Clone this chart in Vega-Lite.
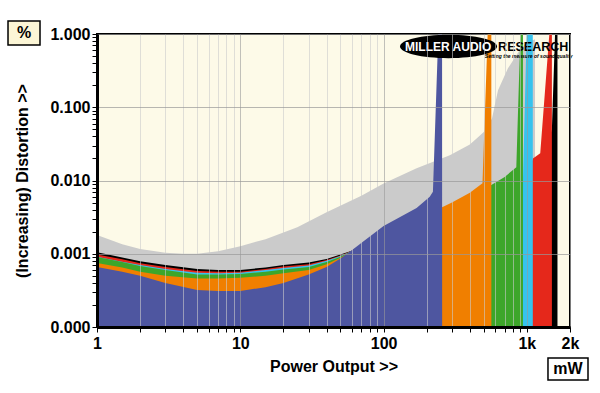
{
  "$schema": "https://vega.github.io/schema/vega-lite/v6.json",
  "width": 473,
  "height": 293,
  "autosize": {"type": "none"},
  "padding": {"left": 97, "top": 34, "right": 30, "bottom": 66},
  "background": "#ffffff",
  "config": {
    "view": {"fill": "#FDFAE8", "stroke": "#000000", "strokeWidth": 2},
    "font": "Liberation Sans"
  },
  "layer": [
    {
      "data": {"values": [
      {"s": "grey", "mW": 1, "pct": 0.0018}, {"s": "grey", "mW": 1.5, "pct": 0.00135}, {"s": "grey", "mW": 2, "pct": 0.00116}, {"s": "grey", "mW": 3, "pct": 0.00103}, {"s": "grey", "mW": 4, "pct": 0.001}, {"s": "grey", "mW": 5, "pct": 0.001}, {"s": "grey", "mW": 7, "pct": 0.00108}, {"s": "grey", "mW": 10, "pct": 0.00127}, {"s": "grey", "mW": 15, "pct": 0.00158}, {"s": "grey", "mW": 25, "pct": 0.0023}, {"s": "grey", "mW": 40, "pct": 0.0037}, {"s": "grey", "mW": 70, "pct": 0.0062}, {"s": "grey", "mW": 100, "pct": 0.0091}, {"s": "grey", "mW": 170, "pct": 0.0147}, {"s": "grey", "mW": 290, "pct": 0.0222}, {"s": "grey", "mW": 400, "pct": 0.031}, {"s": "grey", "mW": 456, "pct": 0.039}, {"s": "grey", "mW": 500, "pct": 0.046}, {"s": "grey", "mW": 571, "pct": 0.07}, {"s": "grey", "mW": 629, "pct": 0.17}, {"s": "grey", "mW": 738, "pct": 0.34}, {"s": "grey", "mW": 844, "pct": 0.51}, {"s": "grey", "mW": 914, "pct": 0.66}, {"s": "grey", "mW": 1000, "pct": 0.76}, {"s": "grey", "mW": 1140, "pct": 0.85}, {"s": "grey", "mW": 1141, "pct": 0.000001},

      {"s": "black", "mW": 1, "pct": 0.00105}, {"s": "black", "mW": 1.5, "pct": 0.00089}, {"s": "black", "mW": 2, "pct": 0.00079}, {"s": "black", "mW": 3, "pct": 0.0007}, {"s": "black", "mW": 5, "pct": 0.00062}, {"s": "black", "mW": 7, "pct": 0.0006}, {"s": "black", "mW": 10, "pct": 0.0006}, {"s": "black", "mW": 15, "pct": 0.00065}, {"s": "black", "mW": 20, "pct": 0.0007}, {"s": "black", "mW": 30, "pct": 0.00076}, {"s": "black", "mW": 40, "pct": 0.00085}, {"s": "black", "mW": 50, "pct": 0.00098}, {"s": "black", "mW": 60, "pct": 0.0011}, {"s": "black", "mW": 100, "pct": 0.002}, {"s": "black", "mW": 300, "pct": 0.0045}, {"s": "black", "mW": 565, "pct": 0.0075}, {"s": "black", "mW": 939, "pct": 0.009}, {"s": "black", "mW": 1103, "pct": 0.012}, {"s": "black", "mW": 1300, "pct": 0.018}, {"s": "black", "mW": 1495, "pct": 0.05}, {"s": "black", "mW": 1580, "pct": 1.3}, {"s": "black", "mW": 1635, "pct": 1.3}, {"s": "black", "mW": 1635.5, "pct": 0.000001},

      {"s": "red", "mW": 1, "pct": 0.00098}, {"s": "red", "mW": 1.5, "pct": 0.00084}, {"s": "red", "mW": 2, "pct": 0.00074}, {"s": "red", "mW": 3, "pct": 0.00066}, {"s": "red", "mW": 5, "pct": 0.00058}, {"s": "red", "mW": 7, "pct": 0.00057}, {"s": "red", "mW": 10, "pct": 0.00057}, {"s": "red", "mW": 15, "pct": 0.00062}, {"s": "red", "mW": 20, "pct": 0.00067}, {"s": "red", "mW": 30, "pct": 0.00072}, {"s": "red", "mW": 40, "pct": 0.00082}, {"s": "red", "mW": 50, "pct": 0.00095}, {"s": "red", "mW": 60, "pct": 0.0011}, {"s": "red", "mW": 100, "pct": 0.002}, {"s": "red", "mW": 300, "pct": 0.0045}, {"s": "red", "mW": 565, "pct": 0.0075}, {"s": "red", "mW": 939, "pct": 0.009}, {"s": "red", "mW": 1000, "pct": 0.012}, {"s": "red", "mW": 1103, "pct": 0.02}, {"s": "red", "mW": 1240, "pct": 0.0236}, {"s": "red", "mW": 1450, "pct": 1.3}, {"s": "red", "mW": 1495, "pct": 1.3}, {"s": "red", "mW": 1495.5, "pct": 0.000001},

      {"s": "cyan", "mW": 1, "pct": 0.00091}, {"s": "cyan", "mW": 1.5, "pct": 0.00078}, {"s": "cyan", "mW": 2, "pct": 0.0007}, {"s": "cyan", "mW": 3, "pct": 0.00062}, {"s": "cyan", "mW": 5, "pct": 0.00055}, {"s": "cyan", "mW": 7, "pct": 0.00054}, {"s": "cyan", "mW": 10, "pct": 0.00055}, {"s": "cyan", "mW": 15, "pct": 0.0006}, {"s": "cyan", "mW": 20, "pct": 0.00064}, {"s": "cyan", "mW": 30, "pct": 0.00069}, {"s": "cyan", "mW": 40, "pct": 0.0008}, {"s": "cyan", "mW": 50, "pct": 0.00093}, {"s": "cyan", "mW": 60, "pct": 0.00109}, {"s": "cyan", "mW": 100, "pct": 0.002}, {"s": "cyan", "mW": 300, "pct": 0.0045}, {"s": "cyan", "mW": 565, "pct": 0.0075}, {"s": "cyan", "mW": 939, "pct": 0.01}, {"s": "cyan", "mW": 1000, "pct": 1.3}, {"s": "cyan", "mW": 1100, "pct": 1.3}, {"s": "cyan", "mW": 1100.5, "pct": 0.000001},

      {"s": "green", "mW": 1, "pct": 0.0009}, {"s": "green", "mW": 1.5, "pct": 0.00077}, {"s": "green", "mW": 2, "pct": 0.00068}, {"s": "green", "mW": 3, "pct": 0.0006}, {"s": "green", "mW": 5, "pct": 0.00052}, {"s": "green", "mW": 7, "pct": 0.00052}, {"s": "green", "mW": 10, "pct": 0.00053}, {"s": "green", "mW": 15, "pct": 0.00057}, {"s": "green", "mW": 20, "pct": 0.00061}, {"s": "green", "mW": 30, "pct": 0.00066}, {"s": "green", "mW": 40, "pct": 0.00077}, {"s": "green", "mW": 50, "pct": 0.00091}, {"s": "green", "mW": 60, "pct": 0.00109}, {"s": "green", "mW": 100, "pct": 0.002}, {"s": "green", "mW": 300, "pct": 0.0045}, {"s": "green", "mW": 500, "pct": 0.0075}, {"s": "green", "mW": 565, "pct": 0.0087}, {"s": "green", "mW": 700, "pct": 0.0112}, {"s": "green", "mW": 844, "pct": 0.0152}, {"s": "green", "mW": 905, "pct": 1.3}, {"s": "green", "mW": 939, "pct": 1.3}, {"s": "green", "mW": 939.5, "pct": 0.000001},

      {"s": "orange", "mW": 1, "pct": 0.00075}, {"s": "orange", "mW": 1.5, "pct": 0.00065}, {"s": "orange", "mW": 2, "pct": 0.00057}, {"s": "orange", "mW": 3, "pct": 0.0005}, {"s": "orange", "mW": 5, "pct": 0.00046}, {"s": "orange", "mW": 7, "pct": 0.00046}, {"s": "orange", "mW": 10, "pct": 0.00047}, {"s": "orange", "mW": 15, "pct": 0.0005}, {"s": "orange", "mW": 20, "pct": 0.00054}, {"s": "orange", "mW": 30, "pct": 0.0006}, {"s": "orange", "mW": 40, "pct": 0.00072}, {"s": "orange", "mW": 50, "pct": 0.00088}, {"s": "orange", "mW": 60, "pct": 0.00108}, {"s": "orange", "mW": 100, "pct": 0.0021}, {"s": "orange", "mW": 200, "pct": 0.0036}, {"s": "orange", "mW": 256, "pct": 0.0043}, {"s": "orange", "mW": 300, "pct": 0.005}, {"s": "orange", "mW": 400, "pct": 0.0068}, {"s": "orange", "mW": 490, "pct": 0.0092}, {"s": "orange", "mW": 535, "pct": 1.3}, {"s": "orange", "mW": 565, "pct": 1.3}, {"s": "orange", "mW": 565.5, "pct": 0.000001},

      {"s": "blue", "mW": 1, "pct": 0.00066}, {"s": "blue", "mW": 1.5, "pct": 0.00057}, {"s": "blue", "mW": 2, "pct": 0.0005}, {"s": "blue", "mW": 3, "pct": 0.0004}, {"s": "blue", "mW": 5, "pct": 0.00032}, {"s": "blue", "mW": 7, "pct": 0.00031}, {"s": "blue", "mW": 10, "pct": 0.00031}, {"s": "blue", "mW": 15, "pct": 0.00035}, {"s": "blue", "mW": 20, "pct": 0.0004}, {"s": "blue", "mW": 30, "pct": 0.00052}, {"s": "blue", "mW": 40, "pct": 0.00066}, {"s": "blue", "mW": 50, "pct": 0.00086}, {"s": "blue", "mW": 60, "pct": 0.00112}, {"s": "blue", "mW": 100, "pct": 0.0024}, {"s": "blue", "mW": 150, "pct": 0.0037}, {"s": "blue", "mW": 170, "pct": 0.0042}, {"s": "blue", "mW": 210, "pct": 0.006}, {"s": "blue", "mW": 221, "pct": 0.007}, {"s": "blue", "mW": 242, "pct": 1.3}, {"s": "blue", "mW": 256, "pct": 1.3}, {"s": "blue", "mW": 256.5, "pct": 0.000001}
      ]},
      "encoding": {
        "x": {
          "field": "mW", "type": "quantitative",
          "scale": {"type": "log", "domain": [1, 2000], "nice": false},
          "axis": {
            "values": [1,2,3,4,5,6,7,8,9,10,20,30,40,50,60,70,80,90,100,200,300,400,500,600,700,800,900,1000,2000],
            "labelExpr": "datum.value == 1 ? '1' : datum.value == 10 ? '10' : datum.value == 100 ? '100' : datum.value == 1000 ? '1k' : datum.value == 2000 ? '2k' : ''",
            "labelFlush": false, "labelOverlap": false,
            "labelFont": "Liberation Sans", "labelFontSize": 16, "labelFontWeight": "bold", "labelColor": "#000000", "labelPadding": 3,
            "title": "Power Output >>", "titleFont": "Liberation Sans", "titleFontSize": 16, "titleFontWeight": "bold", "titleColor": "#000000", "titlePadding": 7,
            "tickSize": 5, "tickColor": "#000000", "tickWidth": 1,
            "domainColor": "#000000", "domainWidth": 3,
            "grid": true,
            "gridColor": {"condition": {"test": "abs(log(datum.value)/LN10 - round(log(datum.value)/LN10)) < 0.001", "value": "#9a9a9a"}, "value": "#cccccc"},
            "gridOpacity": 0.6,
            "zindex": 1
          }
        },
        "y": {
          "field": "pct", "type": "quantitative",
          "scale": {"type": "log", "domain": [0.0001, 1], "nice": false},
          "axis": {
            "values": [0.0001,0.0002,0.0003,0.0004,0.0005,0.0006,0.0007,0.0008,0.0009,0.001,0.002,0.003,0.004,0.005,0.006,0.007,0.008,0.009,0.01,0.02,0.03,0.04,0.05,0.06,0.07,0.08,0.09,0.1,0.2,0.3,0.4,0.5,0.6,0.7,0.8,0.9,1],
            "labelExpr": "abs(log(datum.value)/LN10 - round(log(datum.value)/LN10)) < 0.001 ? format(datum.value, '.3f') : ''",
            "labelOverlap": false, "labelFlush": false,
            "labelFont": "Liberation Sans", "labelFontSize": 16, "labelFontWeight": "bold", "labelColor": "#000000", "labelPadding": 2,
            "title": "(Increasing) Distortion >>", "titleFont": "Liberation Sans", "titleFontSize": 16, "titleFontWeight": "bold", "titleColor": "#000000", "titlePadding": 19,
            "tickSize": 5, "tickColor": "#000000", "tickWidth": 1,
            "domainColor": "#000000", "domainWidth": 3,
            "grid": true,
            "gridColor": "#999999",
            "gridOpacity": {"condition": {"test": "abs(log(datum.value)/LN10 - round(log(datum.value)/LN10)) < 0.001", "value": 0.7}, "value": 0},
            "zindex": 1
          }
        },
        "y2": {"datum": 0.0001}
      },
      "layer": [
        {"transform": [{"filter": "datum.s == 'grey'"}], "mark": {"type": "area", "clip": true, "color": "#CBCBCB"}},
        {"transform": [{"filter": "datum.s == 'black'"}], "mark": {"type": "area", "clip": true, "color": "#000000"}},
        {"transform": [{"filter": "datum.s == 'red'"}], "mark": {"type": "area", "clip": true, "color": "#E5281B"}},
        {"transform": [{"filter": "datum.s == 'cyan'"}], "mark": {"type": "area", "clip": true, "color": "#36C3EE"}},
        {"transform": [{"filter": "datum.s == 'green'"}], "mark": {"type": "area", "clip": true, "color": "#3DA62A"}},
        {"transform": [{"filter": "datum.s == 'orange'"}], "mark": {"type": "area", "clip": true, "color": "#F07F00"}},
        {"transform": [{"filter": "datum.s == 'blue'"}], "mark": {"type": "area", "clip": true, "color": "#4E56A0"}}
      ]
    },
    {
      "data": {"values": [{"t": "logo"}]},
      "mark": {"type": "point", "filled": true, "color": "#000000", "opacity": 1, "size": 9409, "shape": "M-1,0A1,0.24,0,1,1,1,0A1,0.24,0,1,1,-1,0Z"},
      "encoding": {"x": {"datum": 283.9, "type": "quantitative"}, "y": {"datum": 0.675, "type": "quantitative"}}
    },
    {
      "data": {"values": [{"t": "MILLER AUDIO"}]},
      "mark": {"type": "text", "font": "Liberation Sans", "fontSize": 12, "fontWeight": "bold", "color": "#ffffff", "align": "left", "baseline": "middle"},
      "encoding": {"x": {"datum": 141.1, "type": "quantitative"}, "y": {"datum": 0.675, "type": "quantitative"}, "text": {"field": "t"}}
    },
    {
      "data": {"values": [{"t": "RESEARCH"}]},
      "mark": {"type": "text", "font": "Liberation Sans", "fontSize": 12.5, "fontWeight": "bold", "color": "#000000", "align": "left", "baseline": "middle"},
      "encoding": {"x": {"datum": 630, "type": "quantitative"}, "y": {"datum": 0.675, "type": "quantitative"}, "text": {"field": "t"}}
    },
    {
      "data": {"values": [{"t": "Setting the measure of sound quality"}]},
      "mark": {"type": "text", "font": "Liberation Sans", "fontSize": 5, "fontWeight": "bold", "fontStyle": "italic", "color": "#000000", "align": "center", "baseline": "middle"},
      "encoding": {"x": {"datum": 1030, "type": "quantitative"}, "y": {"datum": 0.5, "type": "quantitative"}, "text": {"field": "t"}}
    },
    {
      "data": {"values": [{"t": "%"}]},
      "mark": {"type": "rect", "fill": "#FCF6D6", "stroke": "#000000", "strokeWidth": 1.5},
      "encoding": {"x": {"datum": 0.2393, "type": "quantitative"}, "x2": {"datum": 0.4002}, "y": {"datum": 1.504, "type": "quantitative"}, "y2": {"datum": 0.7079}}
    },
    {
      "data": {"values": [{"t": "%"}]},
      "mark": {"type": "text", "font": "Liberation Sans", "fontSize": 16, "fontWeight": "bold", "color": "#000000", "align": "center", "baseline": "middle"},
      "encoding": {"x": {"datum": 0.3094, "type": "quantitative"}, "y": {"datum": 1.032, "type": "quantitative"}, "text": {"field": "t"}}
    },
    {
      "data": {"values": [{"t": "mW"}]},
      "mark": {"type": "rect", "fill": "#ffffff", "stroke": "#000000", "strokeWidth": 1.5},
      "encoding": {"x": {"datum": 1404, "type": "quantitative"}, "x2": {"datum": 2671}, "y": {"datum": 0.00003775, "type": "quantitative"}, "y2": {"datum": 0.0000189}}
    },
    {
      "data": {"values": [{"t": "mW"}]},
      "mark": {"type": "text", "font": "Liberation Sans", "fontSize": 16, "fontWeight": "bold", "color": "#000000", "align": "center", "baseline": "middle"},
      "encoding": {"x": {"datum": 1937, "type": "quantitative"}, "y": {"datum": 0.0000267, "type": "quantitative"}, "text": {"field": "t"}}
    }
  ]
}
